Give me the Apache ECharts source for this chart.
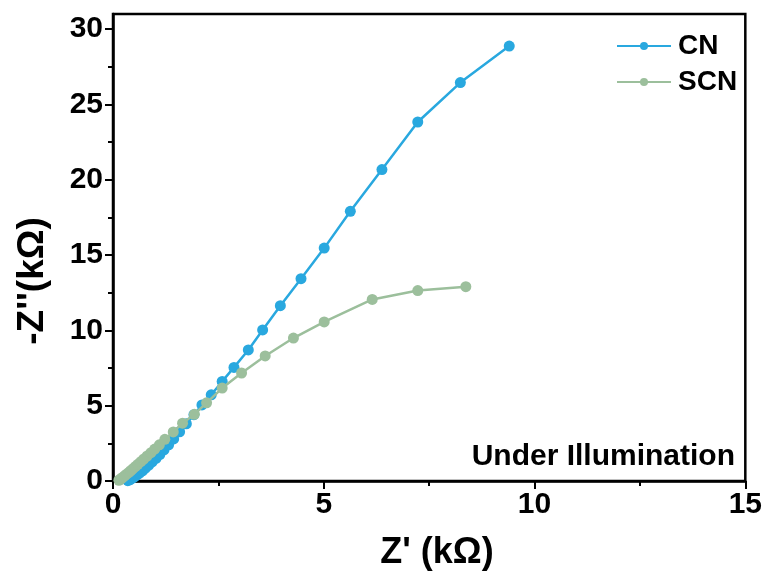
<!DOCTYPE html>
<html>
<head>
<meta charset="utf-8">
<script src="https://cdn.jsdelivr.net/npm/echarts@6/dist/echarts.min.js"></script>
<style>
html,body{margin:0;padding:0;background:#fff;}
#c{width:765px;height:576px;}
</style>
</head>
<body>
<div id="c"></div>
<script>
// Data (kΩ)
const cnZre = [0.35, 0.40, 0.45, 0.51, 0.57, 0.63, 0.70, 0.77, 0.85, 0.93, 1.02, 1.11, 1.21, 1.32, 1.44, 1.58, 1.74, 1.92, 2.11, 2.33, 2.59, 2.87, 3.21, 3.55, 3.97, 4.46, 5.01, 5.63, 6.38, 7.23, 8.24, 9.40];
const cnZim = [0.02, 0.08, 0.17, 0.28, 0.40, 0.53, 0.68, 0.85, 1.05, 1.27, 1.50, 1.76, 2.06, 2.40, 2.79, 3.27, 3.80, 4.40, 5.05, 5.72, 6.61, 7.54, 8.70, 10.03, 11.64, 13.43, 15.46, 17.90, 20.67, 23.83, 26.45, 28.87];
const scnZre = [0.14, 0.17, 0.20, 0.24, 0.28, 0.32, 0.37, 0.42, 0.47, 0.53, 0.59, 0.66, 0.73, 0.81, 0.90, 0.99, 1.10, 1.23, 1.43, 1.65, 1.93, 2.22, 2.59, 3.05, 3.61, 4.28, 5.01, 6.15, 7.23, 8.37];
const scnZim = [0.05, 0.11, 0.18, 0.26, 0.35, 0.45, 0.56, 0.68, 0.81, 0.96, 1.11, 1.28, 1.46, 1.66, 1.88, 2.12, 2.40, 2.77, 3.26, 3.84, 4.43, 5.19, 6.17, 7.17, 8.30, 9.49, 10.56, 12.05, 12.64, 12.90];
const xMajorTicks = [0, 5, 10, 15];
const xMinorTicks = [2.5, 7.5, 12.5];
const yMajorTicks = [0, 5, 10, 15, 20, 25, 30];
const yMinorTicks = [2.5, 7.5, 12.5, 17.5, 22.5, 27.5];
const seriesNames = ['CN', 'SCN'];
const xTitle = "Z' (kΩ)";
const yTitle = "-Z''(kΩ)";
const note = 'Under Illumination';

const pairs = (xs, ys) => xs.map((x, i) => [x, ys[i]]);
const FONT = '"Liberation Sans", Arial, sans-serif';
const blue = '#29a8df';
const green = '#9cbf9c';

const chart = echarts.init(document.getElementById('c'), null, {renderer: 'canvas'});
const axisCommon = {
  axisLine: {show: true, lineStyle: {color: '#000', width: 2.5}},
  splitLine: {show: false}
};
chart.setOption({
  animation: false,
  backgroundColor: '#fff',
  grid: {left: 113, right: 18, top: 14, bottom: 95, show: true, borderColor: '#000', borderWidth: 2.5, backgroundColor: 'transparent'},
  legend: {
    data: seriesNames,
    left: 611, top: 27,
    orient: 'vertical',
    itemWidth: 54, itemHeight: 10, itemGap: 8,
    textStyle: {fontFamily: FONT, fontWeight: 'bold', fontSize: 28, color: '#000', padding: [0, 0, 0, 2]}
  },
  xAxis: [
    Object.assign({}, axisCommon, {
      type: 'value', min: 0, max: 15, interval: 5, position: 'bottom',
      axisTick: {show: true, length: 8, lineStyle: {color: '#000', width: 2}, customValues: xMajorTicks},
      axisLabel: {fontFamily: FONT, fontWeight: 'bold', fontSize: 30, color: '#000', margin: 9, customValues: xMajorTicks}
    }),
    {
      type: 'value', min: 0, max: 15, position: 'bottom',
      axisLine: {show: false}, splitLine: {show: false}, axisLabel: {show: false},
      axisTick: {show: true, length: 5, lineStyle: {color: '#000', width: 2}, customValues: xMinorTicks}
    }
  ],
  yAxis: [
    Object.assign({}, axisCommon, {
      type: 'value', min: 0, max: 31, interval: 5, position: 'left',
      axisTick: {show: true, length: 8, lineStyle: {color: '#000', width: 2}, customValues: yMajorTicks},
      axisLabel: {fontFamily: FONT, fontWeight: 'bold', fontSize: 30, color: '#000', margin: 10, customValues: yMajorTicks}
    }),
    {
      type: 'value', min: 0, max: 31, position: 'left',
      axisLine: {show: false}, splitLine: {show: false}, axisLabel: {show: false},
      axisTick: {show: true, length: 5, lineStyle: {color: '#000', width: 2}, customValues: yMinorTicks}
    }
  ],
  graphic: [
    {
      type: 'text', right: 30, top: 442,
      style: {text: note, fontFamily: FONT, fontWeight: 'bold', fontSize: 30, fill: '#000'}
    },
    {
      type: 'text', x: 437, y: 553,
      style: {text: xTitle, fontFamily: FONT, fontWeight: 'bold', fontSize: 36, fill: '#000', align: 'center', verticalAlign: 'middle'}
    },
    {
      type: 'text', x: 33, y: 281, rotation: Math.PI / 2,
      style: {text: yTitle, fontFamily: FONT, fontWeight: 'bold', fontSize: 37, fill: '#000', align: 'center', verticalAlign: 'middle'}
    }
  ],
  series: [
    {
      name: seriesNames[0], type: 'line', xAxisIndex: 0, yAxisIndex: 0,
      data: pairs(cnZre, cnZim), symbol: 'circle', symbolSize: 11,
      itemStyle: {color: blue}, lineStyle: {color: blue, width: 2.5}, z: 2
    },
    {
      name: seriesNames[1], type: 'line', xAxisIndex: 0, yAxisIndex: 0,
      data: pairs(scnZre, scnZim), symbol: 'circle', symbolSize: 11,
      itemStyle: {color: green}, lineStyle: {color: green, width: 2.5}, z: 3
    }
  ]
});
</script>
</body>
</html>
